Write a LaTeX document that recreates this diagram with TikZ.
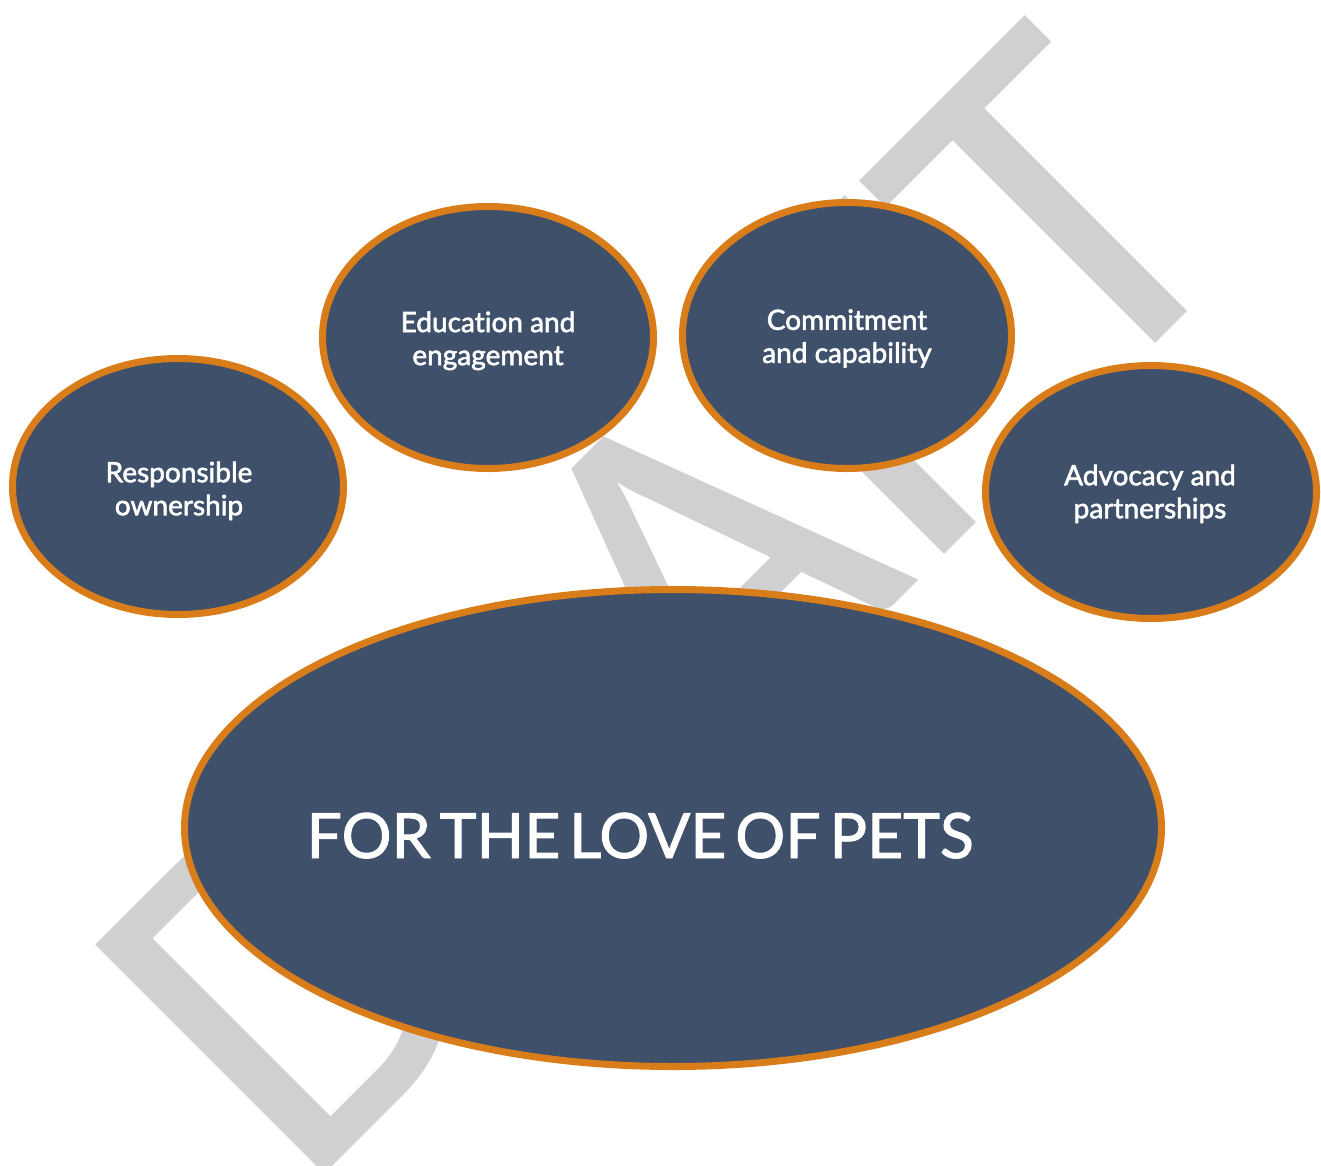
\documentclass[tikz,border=0pt]{standalone}
\usepackage{fontspec}
\setmainfont[Ligatures=NoCommon]{Lato}
\newfontfamily\pawfont[FakeBold=2,Ligatures=NoCommon]{Lato}
\newfontfamily\petsfont[FakeBold=1.5,Ligatures=NoCommon,WordSpace=0.55]{Lato}
\newfontfamily\wmfont{Carlito}
\usetikzlibrary{shapes.geometric}
\definecolor{pawfill}{RGB}{62,80,106}
\definecolor{pawedge}{RGB}{217,125,26}
\definecolor{wmgray}{RGB}{208,208,208}
\begin{document}
\begin{tikzpicture}[x=1pt,y=-1pt,
  paw/.style={ellipse, draw=pawedge, fill=pawfill, line width=7pt, inner sep=0pt},
  pawtxt/.style={text=white, align=center, font=\pawfont\fontsize{28}{33}\selectfont, inner sep=0pt},
  maintxt/.style={text=white, inner sep=0pt, anchor=base, font=\petsfont\fontsize{62.5}{62.5}\selectfont},
  wmark/.style={rotate=45, anchor=base west, inner sep=0pt, text=wmgray, font=\wmfont\fontsize{505}{505}\selectfont}
]
\useasboundingbox (0,0) rectangle (1321,1165);
\clip (0,0) rectangle (1321,1165);
\fill[white] (0,0) rectangle (1321,1165);
\node[wmark] (wm) at (300,1199) {DRAFT};
\node[paw, minimum width=331pt, minimum height=256pt] (e1) at (178,486.5) {};
\node[paw, minimum width=331pt, minimum height=262pt] (e2) at (488,337.5) {};
\node[paw, minimum width=329pt, minimum height=266pt] (e3) at (847,335.5) {};
\node[paw, minimum width=331pt, minimum height=253pt] (e4) at (1151,492) {};
\node[paw, minimum width=977pt, minimum height=477pt] (main) at (673,828) {};
\node[pawtxt] (t1) at (179,490.8) {Responsible\\ownership};
\node[pawtxt] (t2) at (488,340.8) {Education and\\engagement};
\node[pawtxt] (t3) at (847,338.5) {Commitment\\and capability};
\node[pawtxt] (t4) at (1150,493.8) {Advocacy and\\partnerships};
\node[maintxt] (mt) at (640,858) {FOR THE LOVE OF PETS};
\end{tikzpicture}
\end{document}
